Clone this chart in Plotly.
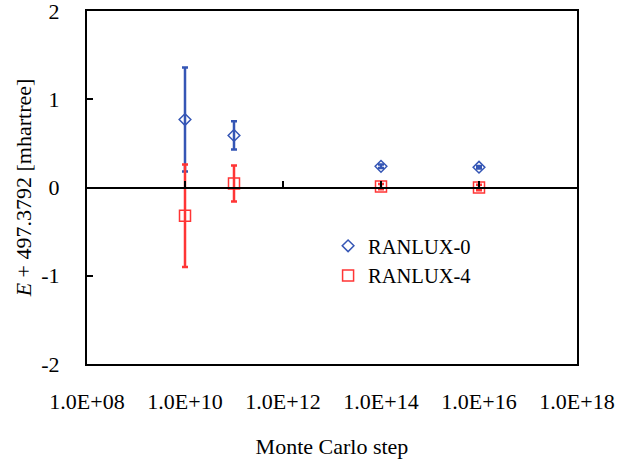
import plotly.graph_objects as go

steps = [1.0e10, 1.0e11, 1.0e14, 1.0e16]
ranlux0 = [0.77, 0.59, 0.24, 0.23]
ranlux0_err = [0.59, 0.16, 0.02, 0.015]
ranlux4 = [-0.32, 0.045, 0.01, 0.0]
ranlux4_err = [0.58, 0.205, 0.03, 0.03]
x_ticks = [1e8, 1e10, 1e12, 1e14, 1e16, 1e18]
x_ticklabels = ["1.0E+08", "1.0E+10", "1.0E+12", "1.0E+14", "1.0E+16", "1.0E+18"]
y_ticks = [-2, -1, 0, 1, 2]
y_ticklabels = ["-2", "-1", "0", "1", "2"]

FONT = "Liberation Serif, Times New Roman, serif"
BLUE = "#3556B5"
RED = "#FF3535"

fig = go.Figure()
fig.add_trace(go.Scatter(
    x=steps, y=ranlux0, mode="markers", name="RANLUX-0",
    marker=dict(symbol="diamond-open", size=9, color=BLUE, line=dict(width=1.5, color=BLUE)),
    error_y=dict(type="data", array=ranlux0_err, visible=True, color=BLUE, thickness=2.5, width=3),
))
fig.add_trace(go.Scatter(
    x=steps, y=ranlux4, mode="markers", name="RANLUX-4",
    marker=dict(symbol="square-open", size=11, color=RED, line=dict(width=1.5, color=RED)),
    error_y=dict(type="data", array=ranlux4_err, visible=True, color=RED, thickness=2.5, width=3),
))
# empty trace to host the zero-crossing axis
fig.add_trace(go.Scatter(x=[], y=[], xaxis="x2", showlegend=False, hoverinfo="skip"))

fig.update_layout(
    width=637, height=464,
    margin=dict(l=87, r=60, t=11, b=100, autoexpand=False),
    paper_bgcolor="white", plot_bgcolor="white",
    font=dict(family=FONT, size=22, color="black"),
    showlegend=True,
    legend=dict(x=0.492, y=0.391, xanchor="left", yanchor="top",
                bgcolor="rgba(0,0,0,0)", font=dict(family=FONT, size=20.5),
                itemwidth=30, tracegroupgap=0),
    xaxis=dict(
        type="log", range=[8, 18], tickvals=x_ticks, ticktext=x_ticklabels,
        showline=True, linecolor="black", linewidth=2, mirror=True,
        ticks="", showgrid=False, zeroline=False,
        ticklabelstandoff=17,
        title=dict(text="Monte Carlo step", font=dict(family=FONT, size=22), standoff=25),
        automargin=False,
    ),
    xaxis2=dict(
        type="log", range=[8, 18], tickvals=x_ticks, overlaying="x",
        anchor="free", position=0.5, side="bottom",
        showline=True, linecolor="black", linewidth=2,
        ticks="inside", ticklen=6, tickwidth=2, tickcolor="black",
        showticklabels=False, showgrid=False, zeroline=False,
    ),
    yaxis=dict(
        range=[-2, 2], tickvals=y_ticks, ticktext=y_ticklabels,
        showline=True, linecolor="black", linewidth=2, mirror=True,
        ticks="inside", ticklen=6, tickwidth=2, tickcolor="black",
        showgrid=False, zeroline=False, ticklabelstandoff=21,
        ticklabeloverflow="allow",
        title=dict(text="<i>E</i> + 497.3792 [mhartree]", font=dict(family=FONT, size=22), standoff=4),
        automargin=False,
    ),
)

fig.write_html("out.html", config={"displayModeBar": False},
               post_script="document.body.style.margin='0';")
